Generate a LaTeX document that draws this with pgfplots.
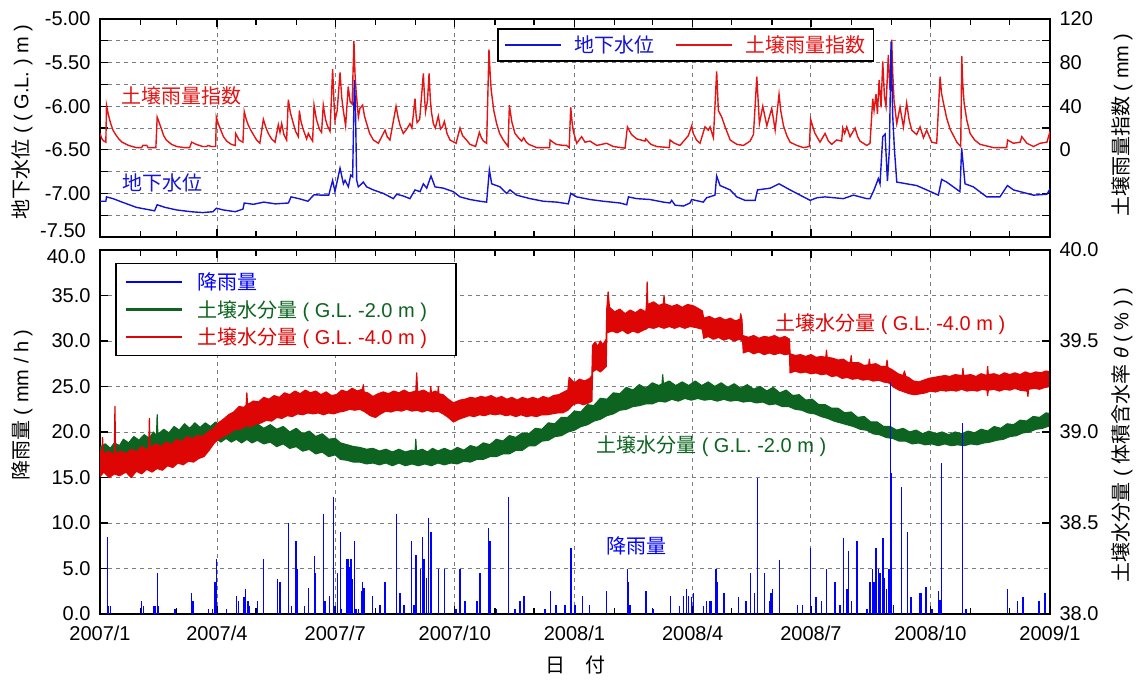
\documentclass[border=0pt]{standalone}
\usepackage{fontspec}
\usepackage{pgfplots}
\pgfplotsset{compat=1.18}
\setmainfont{Liberation Sans}
\newfontfamily\jp{Noto Sans CJK JP}

\definecolor{gwblue}{RGB}{20,20,215}
\definecolor{idxred}{RGB}{228,20,20}
\definecolor{rainblue}{RGB}{0,0,255}
\definecolor{swgreen}{RGB}{12,100,32}
\definecolor{swred}{RGB}{222,5,5}
\definecolor{gridgray}{RGB}{125,125,125}

\pgfplotsset{
  panel/.style={
    scale only axis, width=950pt,
    xmin=0, xmax=731,
    axis line style={line width=1.5pt},
    tick style={black, line width=1.3pt},
    major tick length=8pt, minor tick length=6pt,
    tick label style={font=\fontsize{20}{24}\selectfont},
    xtick={0,90,181,273,365,456,547,639,731},
    minor xtick={31,59,120,151,212,243,304,334,396,425,486,517,578,609,670,700},
    grid style={gridgray, line width=0.9pt, dash pattern=on 4pt off 4pt},
  },
  legend image code/.code={\draw[#1] (0pt,0pt) -- (56pt,0pt);},
}

\begin{document}
\begin{tikzpicture}[font=\fontsize{20}{24}\selectfont]
\useasboundingbox (0pt,0pt) rectangle (1140pt,-680pt);

% ---------- upper panel: frame, grid, left axis (groundwater level, m)
% (the -7.50 label is set separately below, nudged up clear of the lower panel's 40.0)
\begin{axis}[panel, at={(100pt,-237pt)}, anchor=south west, height=218pt,
  ymin=-7.5, ymax=-5,
  ytick={-7.5,-7.25,-7,-6.75,-6.5,-6.25,-6,-5.75,-5.5,-5.25,-5},
  yticklabels={,,-7.00,,-6.50,,-6.00,,-5.50,,-5.00},
  ytick pos=left, xticklabel=\empty,
  yticklabel style={xshift=-6pt},
  xmajorgrids, ymajorgrids]
\addplot[draw=none] coordinates {(0,-7.5)(731,-5)};
\end{axis}

% ---------- upper panel: right axis, soil rainfall index (mm)
\begin{axis}[panel, at={(100pt,-237pt)}, anchor=south west, height=218pt,
  ymin=-80, ymax=120, ytick={-80,-60,...,120},
  yticklabels={,,,,0,,40,,80,,120},
  axis y line*=right, axis x line=none,
  yticklabel style={xshift=6pt}]
\addplot[idxred, line width=1.4pt] coordinates {
(0,15)(1.5,10)(3,8)(4.5,7)(5,41)(6.5,32)(8,25)(10,18)(12,14)(14.5,10)(17,7)(22,4)(28,2)(32,2)(33,4)(36,4)(37,2)(43,2)
(44,30)(45.5,25)(47,20)(49,13)(51,9)(55,5)(59,3)(65,2)(69,2)(70.5,7)(74,5)(79,3)(82,3)(83,4)(86,3)(89,3)
(89.5,30)(91,24)(93,18)(95,12)(97.5,8)(101,5)(104,4)(104.4,15)(107,9)(110,7)(111,35)(112.5,28)(114,23)(116,18)
(118,14)(120.5,9)(123,6)(125.7,28)(127.5,21)(129.5,15)(132,10)(134.7,7)(137.2,23)(138.5,16)(139.8,24)(141.5,14)
(143.6,9)(144.9,46)(146.5,34)(148.8,24)(150.5,17)(152.6,12)(153.4,36)(154.5,27)(156,20)(159,10)(160.3,15)(162,11)
(163.6,8)(164.7,41)(166.5,28)(168.8,19)(170.5,16)(171.8,41)(173.5,28)(175,22)(177,17)(179,74)(180,45)(180.8,27)
(182.5,36)(184.7,71)(186,48)(187,38)(189,22)(191,58)(192.5,44)(194,42)(195.4,100)(196.2,70)(197,55)(198.8,30)
(200,38)(202.1,41)(203.5,31)(205.2,24)(207.5,15)(210.3,9)(214.2,6)(219.3,18)(221,12)(223.1,9)(227.8,40)(229.5,29)
(231,22)(233.4,15)(236,19)(238.5,24)(240,20)(242.4,47)(243.2,32)(244,25)(246,28)(248.8,70)(249.7,48)(250.5,35)
(252,45)(253.2,70)(254.2,46)(255,35)(256.5,24)(258,20)(260.3,31)(262,19)(263.5,21)(265,26)(267,15)(269.3,9)
(274,6)(277,20)(279,13)(282,9)(284.7,5)(289,3)(291.9,16)(293.5,11)(295,8)(297.5,6)(299.3,92)(300.2,70)(301,55)
(303,36)(305.2,24)(307.5,15)(310.3,9)(314,3)(315,41)(316.8,26)(319.3,15)(322,11)(324.5,8)(326,11)(328,7)(330,5)
(336,2)(346,2)(346.3,9)(348.5,7)(351,5)(356.5,4)(359,4)(361,2)(362.2,39)(363.2,26)(364.2,17)(366.8,6)(370.6,12)
(373.2,7)(377,8)(382.2,4)(389.8,6)(395,3)(404,1.5)(405.8,21)(409,14)(413,10)(419.4,8)(419.9,10)(424,5)(428.4,3)
(438.1,2)(438.6,9)(442,6)(446.3,4)(452.7,13)(455.3,22)(456.5,15)(459,9)(461.7,6)(465.5,21)(468.1,18)(469.4,21)
(472,11)(474.5,72)(475.8,36)(478.4,30)(481,21)(484.9,9)(490,5)(495.1,4)(500.2,8)(502.8,14)(505.4,67)(507.4,24)
(510,40)(513.1,22)(516.9,38)(519.5,18)(522.5,51)(523.8,36)(525.9,22)(528.5,13)(531,7)(536.2,4)(541.3,2)(545.8,3)
(546.8,28)(548.5,21)(550.2,15)(554,7)(557.9,15)(560.5,8)(563,5)(566.8,9)(570.7,8)(571.5,20)(573,15)(574.6,21)
(577.1,12)(581,20)(583,12)(584.8,8)(590,4)(592.5,6)(594.6,47)(595.6,36)(597.1,51)(598.2,33)(599.5,64)(601,39)
(602.3,81)(603.6,49)(604.8,40)(606.6,87)(607.9,55)(609.2,101)(610,70)(611,45)(613.1,24)(615.6,39)(618.2,21)
(620.7,43)(622.5,28)(624.6,18)(628.4,14)(631,21)(633.6,11)(636.1,18)(640,7)(643.8,6)(646.4,67)(647.5,52)(649,43)
(651.5,29)(654.1,19)(659.3,7)(662.3,3)(663.1,86)(663.8,62)(664.9,43)(667,27)(669.5,15)(673,9)(677.2,5)(687.5,2)
(697.7,2)(698.3,9)(702.9,6)(708,7)(709.3,12)(713.2,6)(718.3,3)(723.4,6)(728.6,7)(730.6,15)(731,8)
};
\end{axis}

% ---------- upper panel: groundwater level and legend
\begin{axis}[panel, at={(100pt,-237pt)}, anchor=south west, height=218pt,
  ymin=-7.5, ymax=-5, hide axis,
  legend columns=2,
  legend style={at={(0.418,0.959)}, anchor=north west, draw=black, line width=1.6pt,
    fill=white, font=\fontsize{20}{24}\selectfont, inner xsep=6pt, inner ysep=5pt,
    /tikz/every odd column/.append style={column sep=10pt},
    /tikz/every even column/.append style={column sep=19pt}}]
\addlegendimage{gwblue, line width=2.2pt}
\addlegendentry{\textcolor{gwblue}{\jp 地下水位}}
\addlegendimage{idxred, line width=2.2pt}
\addlegendentry{\textcolor{idxred}{\jp 土壌雨量指数}}
\addplot[gwblue, line width=1.4pt, forget plot] coordinates {
(0,-7.09)(4.5,-7.09)(5,-7.04)(10,-7.06)(17,-7.10)(28,-7.16)(42,-7.20)(44,-7.13)(50,-7.16)(59,-7.19)(70,-7.21)
(79,-7.22)(87,-7.21)(89.5,-7.17)(95,-7.19)(104,-7.21)(110,-7.18)(111,-7.11)(118,-7.125)(126,-7.10)(135,-7.12)
(145,-7.11)(147,-7.04)(153,-7.06)(160,-7.09)(164.7,-7.015)(170,-7.02)(176,-7.02)(179,-6.85)(180.8,-6.98)
(184.7,-6.71)(187.3,-6.89)(188.6,-6.85)(191.1,-6.925)(192.9,-6.79)(194.4,-6.81)(195.7,-5.70)(196.5,-5.96)
(197.5,-6.85)(198.8,-6.925)(202.6,-6.87)(205.2,-6.925)(210.3,-6.96)(218,-7.00)(225.7,-7.06)(228.3,-7.01)
(233.4,-7.03)(238.5,-7.06)(242.4,-6.96)(246.3,-6.98)(248.8,-6.89)(251.4,-6.94)(254.7,-6.80)(257.8,-6.925)
(264.2,-6.94)(271.9,-6.98)(277,-7.04)(284.7,-7.07)(292.4,-7.09)(297.5,-7.10)(299.6,-6.73)(301.4,-6.89)
(307.8,-6.925)(312.9,-7.00)(315.5,-6.96)(320.6,-7.02)(330.9,-7.06)(341.2,-7.09)(351.4,-7.10)(360.4,-7.12)
(362.2,-7.00)(366.8,-7.04)(377,-7.07)(387.3,-7.09)(400.1,-7.11)(405.3,-7.13)(406.6,-7.04)(413,-7.06)
(423.2,-7.07)(433.5,-7.10)(438.6,-7.11)(439.9,-7.08)(442.5,-7.135)(448.9,-7.145)(454,-7.11)(455.3,-7.07)
(464.2,-7.10)(466.8,-7.05)(473.2,-7.02)(474.5,-6.80)(477.1,-6.91)(484.9,-6.96)(490,-7.04)(496.4,-7.08)
(504.1,-7.08)(505.9,-6.96)(515.7,-6.94)(522.5,-6.89)(531,-6.96)(541.3,-7.04)(546.5,-7.08)(551.6,-7.05)
(557.9,-7.04)(572,-7.06)(579.7,-7.02)(590,-7.06)(592.5,-7.06)(595.6,-6.96)(598.9,-6.83)(600.2,-6.89)
(602.3,-6.35)(604.1,-6.32)(605.9,-6.86)(607.4,-6.50)(608.7,-5.26)(610,-6.12)(611.3,-6.50)(613.1,-6.87)
(620.7,-6.89)(628.4,-6.91)(636.1,-6.96)(645.1,-7.02)(647.6,-6.84)(651.5,-6.87)(661.7,-6.98)(663,-6.48)
(665.6,-6.89)(672,-6.925)(682.3,-7.04)(692.5,-7.04)(698.2,-6.91)(702.9,-6.96)(718.3,-7.02)(728.6,-7.01)(731,-6.95)
};
\end{axis}

% ---------- lower panel: rainfall (mm/h) and soil water content
% (the 40.0 label is set separately below, nudged down clear of the upper panel's -7.50)
\begin{axis}[panel, at={(100pt,-614pt)}, anchor=south west, height=364pt,
  ymin=0, ymax=40, ytick={0,5,...,40},
  yticklabels={0.0,5.0,10.0,15.0,20.0,25.0,30.0,35.0,},
  ytick pos=left, yticklabel style={xshift=-6pt},
  xticklabels={2007/1,2007/4,2007/7,2007/10,2008/1,2008/4,2008/7,2008/10,2009/1},
  xticklabel style={yshift=-8pt},
  xmajorgrids, ymajorgrids,
  legend cell align=left,
  legend style={at={(0.0158,0.965)}, anchor=north west, draw=black, line width=1.6pt,
    fill=white, font=\fontsize{20}{24}\selectfont, inner xsep=9pt, inner ysep=7pt,
    row sep=5.5pt,
    /tikz/every odd column/.append style={column sep=12pt}}]
\addlegendimage{rainblue, line width=2.2pt}
\addlegendentry{\textcolor{rainblue}{\jp 降雨量}}
\addlegendimage{swgreen, line width=2.2pt}
\addlegendentry{\textcolor{swgreen}{{\jp 土壌水分量} ( G.L. -2.0 m )}\hspace*{18pt}}
\addlegendimage{swred, line width=2.2pt}
\addlegendentry{\textcolor{swred}{{\jp 土壌水分量} ( G.L. -4.0 m )}\hspace*{18pt}}

% soil water content, G.L. -2.0 m: upper edge of the noisy record, then lower edge backwards
\addplot[draw=swgreen, line width=1.2pt, line join=round, fill=swgreen, forget plot] coordinates {
(0,18.3)(4,18.7)(8,18.2)(11,18.8)(15,18.5)(18,19.2)(22,18.8)(26,19.5)(30,19.1)(34,19.7)(38,19.3)(41,20.0)(43.5,19.6)
(44,21.9)(44.5,19.7)(49,20.3)(53,19.9)(57,20.6)(61,20.2)(65,20.9)(69,20.4)(73,21.0)(77,20.5)(81,21.0)(85,20.6)
(89,21.1)(93,20.6)(97,21.0)(101,20.6)(105,21.1)(109,20.6)(113,21.0)(117,20.6)(121,20.9)(126,20.4)(131,20.8)
(136,20.3)(141,20.6)(146,20.0)(151,20.4)(156,19.8)(161,20.1)(166,19.5)(171,19.8)(176,19.2)(181,19.3)(185,18.8)
(190,18.6)(195,18.4)(200,18.3)(205,18.1)(210,18.2)(215,17.9)(220,18.1)(225,17.8)(230,18.1)(235,17.8)(240,18.0)
(242.5,17.9)(243,19.2)(243.5,17.9)(248,18.1)(252,17.8)(256,18.2)(260,17.9)(265,18.2)(270,17.9)(275,18.3)(280,18.0)
(285,18.5)(290,18.3)(295,18.8)(300,18.6)(305,19.2)(310,19.0)(315,19.6)(320,19.4)(325,19.9)(330,19.8)(335,20.4)
(340,20.3)(345,21.0)(350,20.9)(355,21.6)(360,21.6)(365,22.3)(370,22.2)(375,23.0)(380,22.9)(385,23.7)(390,23.6)
(395,24.3)(400,24.2)(405,24.9)(410,24.6)(415,25.2)(420,24.8)(425,25.4)(430,25.1)(432.5,25.3)(433,26.3)(433.5,25.3)
(438,25.6)(443,25.1)(448,25.5)(453,25.1)(458,25.6)(463,25.1)(468,25.5)(473,25.0)(478,25.4)(483,24.9)(488,25.3)
(493,24.8)(498,25.2)(503,24.7)(508,25.0)(513,24.5)(518,24.9)(523,24.3)(528,24.6)(533,24.0)(538,24.1)(543,23.5)
(548,23.6)(553,23.0)(558,23.0)(563,22.6)(568,22.6)(573,22.1)(578,22.2)(583,21.6)(588,21.7)(593,21.1)(598,21.1)
(603,20.6)(608,20.6)(613,20.2)(618,20.4)(623,20.0)(628,20.2)(633,19.8)(638,20.1)(643,19.8)(648,20.0)(653,19.7)
(658,20.0)(663,19.8)(668,20.1)(673,19.9)(678,20.3)(683,20.1)(688,20.6)(693,20.4)(698,20.9)(703,20.8)(708,21.3)
(713,21.2)(718,21.7)(723,21.6)(728,22.1)(731,22.0)
(731,20.7)(725,20.4)(720,20.3)(715,20.0)(710,19.9)(705,19.6)(700,19.5)(695,19.2)(690,19.1)(685,18.9)(680,18.8)
(675,18.6)(670,18.7)(665,18.5)(660,18.6)(655,18.5)(650,18.7)(645,18.5)(640,18.7)(635,18.6)(630,18.8)(625,18.7)
(620,19.0)(615,19.0)(610,19.3)(605,19.4)(600,19.7)(595,19.8)(590,20.2)(585,20.3)(580,20.6)(575,20.8)(570,21.0)
(565,21.2)(560,21.5)(555,21.7)(550,22.0)(545,22.1)(540,22.4)(535,22.5)(530,22.8)(525,22.8)(520,23.1)(515,23.0)
(510,23.3)(505,23.2)(500,23.4)(495,23.3)(490,23.5)(485,23.4)(480,23.6)(475,23.4)(470,23.6)(465,23.5)(460,23.7)
(455,23.5)(450,23.7)(445,23.4)(440,23.6)(435,23.3)(430,23.4)(425,23.1)(420,23.1)(415,22.9)(410,22.8)(405,22.5)
(400,22.4)(395,22.0)(390,21.8)(385,21.4)(380,21.2)(375,20.8)(370,20.6)(365,20.2)(360,20.0)(355,19.6)(350,19.5)
(345,19.1)(340,19.0)(335,18.5)(330,18.5)(325,18.0)(320,18.0)(315,17.6)(310,17.6)(305,17.3)(300,17.3)(295,17.0)
(290,17.0)(285,16.7)(280,16.8)(275,16.5)(270,16.6)(265,16.4)(260,16.6)(255,16.3)(250,16.5)(245,16.3)(240,16.5)
(235,16.3)(230,16.6)(225,16.3)(220,16.6)(215,16.4)(210,16.6)(205,16.5)(200,16.7)(195,16.7)(190,16.9)(185,17.0)
(181,17.5)(176,17.3)(171,17.8)(166,17.6)(161,18.1)(156,17.9)(151,18.4)(146,18.2)(141,18.7)(136,18.4)(131,18.9)
(126,18.7)(121,19.1)(117,18.8)(113,19.2)(109,18.8)(105,19.2)(101,18.9)(97,19.3)(93,18.9)(89,19.3)(85,18.9)
(81,19.3)(77,19.0)(73,19.3)(69,18.9)(65,19.2)(61,18.7)(57,19.0)(53,18.4)(49,18.7)(45,18.1)(41,18.4)(38,17.8)
(34,18.1)(30,17.5)(26,17.9)(22,17.2)(18,17.5)(15,16.9)(11,17.1)(8,16.5)(4,16.9)(0,16.5)
} -- cycle;

% soil water content, G.L. -4.0 m: upper edge of the noisy record, then lower edge backwards
\addplot[draw=swred, line width=1.2pt, line join=round, fill=swred, forget plot] coordinates {
(0,18.0)(1.5,17.7)(2,19.4)(2.5,17.6)(7,17.9)(11,17.4)(11.5,22.8)(12,17.6)(16,17.9)(20,17.6)(24,18.1)(28,17.8)
(32,18.4)(36,18.0)(37.5,18.2)(38,21.5)(38.5,18.2)(43,18.7)(47,18.4)(51,18.9)(55,18.6)(59,19.2)(63,18.9)(67,19.5)
(71,19.2)(75,19.6)(79,19.5)(83,20.0)(87,20.3)(91,21.0)(95,21.4)(99,21.9)(103,22.2)(107,22.8)(111,22.7)(112.5,23.0)
(113,24.3)(113.5,23.0)(118,23.4)(122,23.3)(126,23.8)(130,23.6)(134,24.0)(138,23.8)(142,24.3)(146,24.1)(150,24.5)
(154,24.2)(158,24.6)(162,24.3)(166,24.5)(170,24.1)(174,24.4)(178,24.0)(182,24.1)(186,24.6)(190,24.4)(194,24.8)
(198,24.5)(202,24.7)(202.6,25.2)(203.2,24.4)(206,24.3)(210,23.9)(214,24.2)(218,24.4)(222,24.2)(226,24.5)(230,24.3)
(234,24.6)(238,24.3)(243,24.5)(243.7,26.5)(244.4,24.4)(249,24.6)(254,24.2)(254.5,25.0)(255,24.3)(258,24.5)(260,24.3)
(260.3,25.0)(260.8,24.2)(264,24.1)(268,23.6)(272,23.2)(277,23.5)(281,23.6)(285,23.8)(289,23.7)(293,23.9)(297,23.8)
(301,24.0)(305,23.7)(309,23.9)(313,23.6)(317,23.8)(321,23.5)(325,23.8)(329,23.6)(333,23.8)(337,23.6)(341,23.9)
(345,23.7)(349,24.0)(353,24.1)(357,24.4)(360,24.6)(361,26.0)(365,25.4)(369,25.8)(373,25.6)(377,25.9)(378.5,26.2)
(379,29.5)(381,29.9)(383,29.4)(385,30.0)(387,29.6)(389.5,30.2)(390,33.6)(391,35.4)(392,33.7)(396,33.2)(400,33.5)
(404,33.0)(408,33.4)(412,33.1)(416,33.5)(420,33.2)(420.6,34.2)(421,36.5)(421.5,34.0)(426,34.3)(430,33.9)(433.5,34.1)
(434,35.0)(434.5,34.1)(440,33.8)(444,34.0)(448,33.7)(452,34.0)(456,33.9)(460,33.6)(463.5,33.3)(464.5,32.5)(469,32.7)
(473,32.4)(477,32.6)(481,32.3)(485,32.5)(489,32.2)(492.5,32.4)(493,33.0)(494,32.3)(494.5,30.6)(499,30.4)(503,30.6)
(507,30.3)(511,30.5)(515,30.4)(519,30.6)(523,30.3)(527,30.5)(530.5,30.2)(531,28.6)(535,28.4)(539,28.5)(543,28.3)
(547,28.5)(551,28.2)(555,28.3)(558.5,28.2)(559,29.0)(559.5,28.2)(564,28.1)(568,27.9)(572,28.0)(576,27.6)(577.5,27.7)
(578,28.4)(578.5,27.6)(584,27.6)(588,27.3)(591.5,27.4)(592,28.0)(592.5,27.4)(597,27.5)(601,27.2)(605,27.2)(605.6,27.9)
(606.2,27.1)(610,26.8)(614,26.4)(618,26.2)(619,26.7)(620,26.1)(622,26.0)(626,25.6)(630,25.5)(634,25.7)(638,25.9)
(642,26.0)(646,26.1)(650,26.2)(654,26.1)(658,26.3)(663.5,26.2)(664,27.0)(664.5,26.2)(670,26.3)(674,26.1)(678,26.4)
(682.5,26.2)(683,27.2)(683.5,26.3)(688,26.4)(692,26.2)(696,26.5)(700,26.3)(704,26.5)(708,26.3)(712,26.6)(716,26.4)
(720,26.6)(724,26.5)(728,26.7)(731,26.6)
(731,25.0)(727,24.9)(723,24.7)(719,24.8)(714.5,24.7)(714,23.9)(713.5,24.5)(708,24.6)(704,24.8)(700,24.6)(696,24.7)
(692,24.5)(688,24.7)(683.5,24.6)(683,24.0)(682.5,24.6)(679,24.7)(675,24.5)(671,24.6)(667,24.5)(663,24.7)(659,24.5)
(655,24.6)(651,24.5)(647,24.6)(643,24.4)(639,24.5)(635,24.3)(631,24.2)(627,24.1)(623,24.2)(619,24.4)(615,24.6)
(611,24.9)(607,25.4)(603,25.5)(599,25.7)(595,25.6)(591,25.8)(587,25.7)(583,25.9)(579,25.8)(575,26.0)(571,25.9)
(567,26.2)(563,26.1)(559,26.4)(555,26.3)(551,26.5)(547,26.4)(543,26.6)(539,26.5)(535,26.7)(531,26.5)(530.5,28.6)
(527,28.5)(523,28.7)(519,28.5)(515,28.7)(511,28.5)(507,28.8)(503,28.6)(499,28.9)(495,28.7)(494.5,30.0)(492,30.2)
(488,30.0)(484,30.3)(480,30.1)(476,30.4)(472,30.2)(468,30.5)(464.5,30.3)(463.5,31.3)(458,31.5)(454,31.6)(450,31.4)
(446,31.6)(442,31.4)(438,31.6)(434,31.4)(430,31.6)(426,31.4)(422,31.5)(420,31.3)(418,31.2)(414,30.9)(410,31.1)
(406,30.8)(402,31.2)(398,30.9)(394,31.1)(390,30.9)(389.5,27.2)(388,27.0)(385,26.6)(382,26.9)(379,26.6)(378.5,23.4)
(376,23.2)(372,23.0)(368,23.2)(364,23.0)(360,22.4)(356,22.1)(352,22.1)(348,22.0)(344,21.9)(340,21.9)(336,21.7)
(332,21.8)(328,21.7)(324,21.9)(320,21.7)(316,21.9)(312,21.8)(308,22.0)(304,21.9)(300,22.0)(296,21.8)(292,21.9)
(288,21.7)(284,21.8)(280,21.6)(276,21.4)(272,21.1)(268,21.6)(264,22.0)(260,22.3)(256,22.2)(252,22.4)(248,22.2)
(244,22.4)(240,22.3)(236,22.5)(232,22.3)(228,22.4)(224,22.2)(220,22.3)(216,22.0)(212,21.6)(208,21.8)(204,22.2)
(200,22.5)(196,22.4)(192,22.5)(188,22.3)(184,22.2)(180,22.0)(176,22.1)(172,21.9)(168,22.1)(164,22.0)(160,22.1)
(156,21.9)(152,22.0)(148,21.7)(144,21.8)(140,21.5)(136,21.6)(132,21.2)(128,21.3)(124,21.0)(120,20.9)(116,20.6)
(112,20.7)(108,20.3)(104,20.3)(100,19.9)(96,19.6)(92,19.3)(88,18.8)(84,18.0)(80,17.3)(76,17.1)(72,16.7)(68,16.8)
(64,16.4)(60,16.6)(56,16.1)(52,16.3)(48,15.8)(44,16.0)(40,15.6)(36,15.9)(32,15.4)(28,15.7)(24,15.0)(20,15.6)
(15,15.2)(11,15.4)(7,15.0)(3,15.6)(0,15.1)
} -- cycle;

% hourly rainfall
\addplot[rainblue, ycomb, line width=1.5pt, forget plot] coordinates {
(5.6,8.5)(6.5,0.9)(8,0.9)(32,1.4)(33.5,0.9)(41,0.9)(42.5,0.9)(44.4,4.5)(45,0.9)(57.7,0.5)(70.5,2.3)(71.5,1.4)
(83.4,0.5)(86.4,0.5)(88.5,3.5)(89.8,6.0)(97.5,0.5)(105,2.0)(106.5,1.4)(110.8,1.9)(112,2.8)(114,1.4)(115,0.9)
(121.3,1.4)(125.7,6.0)(136.5,3.9)(138.5,3.5)(144.9,10.0)(147.5,0.9)(150.8,8.0)(151.8,4.9)(157.2,0.9)(160.3,2.9)
(165,6.4)(166,4.5)(171.8,11.0)(173,1.4)(176.5,2.0)(179.5,12.9)(180.5,0.9)(182.6,4.5)(185.2,9.0)(186,0.5)(190,6.0)
(191,6.0)(192,5.2)(193,6.0)(194,3.9)(195.7,8.0)(197,0.5)(199,0.5)(201.3,2.5)(202,3.5)(203,2.9)(209.8,2.0)
(215.4,1.0)(219.3,3.5)(228.3,11.0)(230.8,2.3)(233.9,1.0)(239.8,8.0)(241.6,1.0)(243.2,6.5)(246.8,5.0)(248.3,8.5)
(249.3,6.0)(251.4,4.0)(252.9,10.5)(254.5,9.0)(260.3,5.0)(265,5.0)(273.9,0.5)(277,5.0)(280.9,1.4)(289.9,1.4)
(292.4,4.5)(298.8,9.5)(300.1,8.0)(305.2,0.5)(314.2,12.9)(319.3,0.5)(323.2,1.4)(326.3,2.0)(342.4,0.5)(346.8,2.5)
(350.9,1.0)(357.8,1.0)(362.4,7.3)(365.5,1.0)(371.4,2.0)(376.5,1.0)(389.9,2.5)(406,4.9)(406.8,3.5)(408,1.0)
(420.1,2.5)(425.7,0.5)(439.1,2.0)(445.8,0.9)(448.8,2.0)(451.4,2.8)(452.7,2.0)(455.3,1.9)(456.5,2.3)(464.2,0.9)
(466.8,1.4)(469.4,1.4)(470.7,1.4)(474,4.9)(475,3.5)(480.2,2.3)(491.2,1.9)(497.1,1.4)(500.7,4.5)(503.5,2.3)
(506.1,15.0)(511.2,4.5)(515.1,1.4)(516.3,2.3)(517.3,2.8)(522.7,5.9)(536.6,1.0)(540.7,1.0)(546.8,7.3)(550.9,1.9)
(555.3,1.4)(559.1,4.9)(565.5,3.5)(569.4,1.0)(572,8.4)(574.6,2.8)(575.8,6.9)(578.4,1.4)(582.3,8.0)(590,0.5)
(592.5,3.5)(594.6,4.9)(595.6,3.5)(597.1,7.3)(598.9,5.0)(600.2,4.5)(602.3,8.4)(603.3,4.0)(605.3,2.8)(607.1,5.0)
(608.4,25.5)(609.2,15.5)(610.4,1.0)(616.9,14.0)(621.2,9.0)(624,1.9)(631,2.3)(632.3,2.3)(635.6,3.0)(640,0.5)
(645.3,2.5)(646.4,1.5)(647.6,16.6)(663.5,21.0)(666.3,0.5)(698.4,2.8)(705.8,1.4)(710.4,1.9)(722.7,1.4)(727.1,2.3)
(730.5,2.3)
};
\end{axis}

% ---------- lower panel: right axis, volumetric water content (%)
\begin{axis}[panel, at={(100pt,-614pt)}, anchor=south west, height=364pt,
  ymin=38, ymax=40, ytick={38,38.5,39,39.5,40},
  yticklabels={38.0,38.5,39.0,39.5,40.0},
  axis y line*=right, axis x line=none,
  yticklabel style={xshift=6pt}]
\addplot[draw=none] coordinates {(0,38)(731,40)};
\end{axis}

% the two tick labels where the panels meet
\node[anchor=east, inner sep=0pt] at (86pt,-231pt) {-7.50};
\node[anchor=east, inner sep=0pt] at (86pt,-257pt) {40.0};

% series labels inside the panels
\node[anchor=west, inner sep=0pt, text=idxred] at (121pt,-96pt) {\jp 土壌雨量指数};
\node[anchor=west, inner sep=0pt, text=gwblue] at (122pt,-183pt) {\jp 地下水位};
\node[anchor=west, inner sep=0pt, text=swred] at (775pt,-324pt) {{\jp 土壌水分量} ( G.L. -4.0 m )};
\node[anchor=west, inner sep=0pt, text=swgreen] at (596pt,-446pt) {{\jp 土壌水分量} ( G.L. -2.0 m )};
\node[anchor=west, inner sep=0pt, text=rainblue] at (606pt,-546pt) {\jp 降雨量};

% axis titles
\node[rotate=90] at (22pt,-122pt) {{\jp 地下水位} ( ( G.L. ) m )};
\node[rotate=90] at (22pt,-405pt) {{\jp 降雨量} ( mm / h )};
\node[rotate=90] at (1122pt,-125pt) {{\jp 土壌雨量指数} ( mm )};
\node[rotate=90] at (1122pt,-435pt) {{\jp 土壌水分量} ( {\jp 体積含水率} \textit{θ} ( \% ) )};
\node at (575pt,-665pt) {\jp 日　付};
\end{tikzpicture}
\end{document}
